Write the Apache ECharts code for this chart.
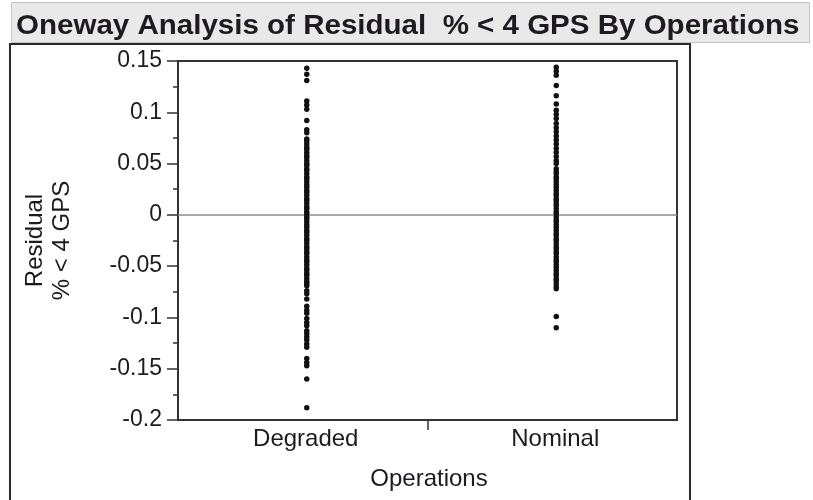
<!DOCTYPE html>
<html>
<head>
<meta charset="utf-8">
<script src="https://cdn.jsdelivr.net/npm/echarts@6/dist/echarts.min.js"></script>
<style>
  html, body { margin: 0; padding: 0; background: #ffffff; }
  #chart { width: 813px; height: 500px; }
</style>
</head>
<body>
<div id="chart"></div>
<script>
// Groups on the x axis
const categories = ['Degraded', 'Nominal'];

// Residual % < 4 GPS for each run, by operating condition
const degradedResiduals = [
  0.143, 0.137, 0.131, 0.111, 0.107, 0.103, 0.092, 0.083, 0.080,
  0.074, 0.072, 0.069, 0.066, 0.064, 0.061, 0.058, 0.056, 0.053, 0.050,
  0.048, 0.045, 0.043, 0.040, 0.037, 0.035, 0.032, 0.029, 0.027, 0.024,
  0.022, 0.019, 0.016, 0.014, 0.011, 0.008, 0.006, 0.003, 0.001, -0.002,
  -0.004, -0.007, -0.010, -0.012, -0.015, -0.017, -0.020, -0.023, -0.025,
  -0.028, -0.031, -0.033, -0.036, -0.038, -0.041, -0.044, -0.046, -0.049,
  -0.052, -0.054, -0.057, -0.059, -0.062, -0.065, -0.067, -0.069,
  -0.074, -0.077, -0.082, -0.089, -0.093, -0.096, -0.101, -0.105, -0.108,
  -0.113, -0.116, -0.119, -0.122, -0.126, -0.129, -0.140, -0.144, -0.147,
  -0.160, -0.188
];

const nominalResiduals = [
  0.144, 0.140, 0.136, 0.126, 0.116, 0.108, 0.102, 0.098, 0.094, 0.089,
  0.085, 0.081, 0.077, 0.073, 0.069, 0.065, 0.061, 0.057, 0.053, 0.050,
  0.045, 0.042, 0.040, 0.037, 0.035, 0.032, 0.029, 0.027, 0.024, 0.021,
  0.019, 0.016, 0.014, 0.011, 0.009, 0.006, 0.003, 0.001, -0.002, -0.005,
  -0.007, -0.010, -0.012, -0.015, -0.018, -0.020, -0.023, -0.025, -0.028,
  -0.031, -0.033, -0.036, -0.038, -0.041, -0.044, -0.046, -0.049, -0.051,
  -0.054, -0.057, -0.059, -0.062, -0.064, -0.067, -0.070, -0.072,
  -0.099, -0.110
];

// Y axis range and tick step
const yMin = -0.2;
const yMax = 0.15;
const yStep = 0.05;

const titleText = 'Oneway Analysis of Residual  % < 4 GPS By Operations';
const yName = 'Residual\n% < 4 GPS';
const xName = 'Operations';

const FONT = '"Liberation Sans", Arial, sans-serif';
const INK = '#1e1a22';

const points = [];
degradedResiduals.forEach(v => points.push([categories[0], v]));
nominalResiduals.forEach(v => points.push([categories[1], v]));

const chart = echarts.init(document.getElementById('chart'), null, { renderer: 'canvas' });

chart.setOption({
  animation: false,
  backgroundColor: '#ffffff',
  textStyle: { fontFamily: FONT, color: INK },
  graphic: [
    // report header bar
    {
      type: 'rect', z: 0,
      shape: { x: 11.5, y: 2.5, width: 798, height: 40 },
      style: { fill: '#e9e9e9', stroke: '#c4c4c4', lineWidth: 1 }
    },
    {
      type: 'text', z: 1,
      x: 16, y: 12,
      scaleX: 1.036,
      style: {
        text: titleText, fill: INK,
        font: 'bold 28.5px ' + FONT
      }
    },
    // report outline box
    {
      type: 'polyline', z: 1,
      shape: { points: [[10, 520], [10, 44], [690, 44], [690, 520]] },
      style: { stroke: '#2a2a2a', lineWidth: 2, fill: null }
    }
  ],
  grid: {
    left: 178, right: 136, top: 61, bottom: 80,
    show: true, borderColor: '#333', borderWidth: 2,
    containLabel: false
  },
  xAxis: [
    {
      type: 'category',
      data: categories,
      boundaryGap: true,
      name: xName,
      nameLocation: 'middle',
      nameGap: 47,
      nameTextStyle: { fontSize: 24, fontFamily: FONT, color: INK, padding: [0, 0, 0, 3] },
      axisLine: { onZero: false, lineStyle: { color: '#333', width: 2 } },
      axisTick: { show: false },
      axisLabel: { fontSize: 24, fontFamily: FONT, color: INK, margin: 7, padding: [0, 0, 0, 6] },
      splitLine: { show: false }
    },
    {
      // divider tick between the two groups
      type: 'value',
      position: 'bottom',
      min: 0, max: 2, interval: 1,
      axisLine: { show: false, onZero: false },
      axisLabel: { show: false },
      splitLine: { show: false },
      axisTick: { show: true, length: 10, customValues: [1], lineStyle: { color: '#333', width: 1.5 } }
    }
  ],
  yAxis: {
    type: 'value',
    min: yMin, max: yMax, interval: yStep,
    name: yName,
    nameLocation: 'middle',
    nameRotate: 90,
    nameGap: 102,
    nameTextStyle: { fontSize: 24, fontFamily: FONT, color: INK, lineHeight: 27, align: 'center' },
    axisLine: { show: true, lineStyle: { color: '#333', width: 2 } },
    axisTick: { show: true, length: 11, lineStyle: { color: '#333', width: 1.5 } },
    minorTick: { show: true, splitNumber: 2, length: 5, lineStyle: { color: '#333', width: 1.5 } },
    axisLabel: {
      fontSize: 23, fontFamily: FONT, color: INK, margin: 16,
      formatter: v => String(+v.toFixed(2))
    },
    splitLine: { show: false }
  },
  series: [{
    type: 'scatter',
    xAxisIndex: 0,
    data: points,
    symbol: 'circle',
    symbolSize: 5.5,
    symbolOffset: [4, 0],
    itemStyle: { color: '#111', opacity: 1 },
    z: 3,
    markLine: {
      silent: true,
      symbol: ['none', 'none'],
      label: { show: false },
      lineStyle: { color: '#8a8a8a', width: 1.5, type: 'solid' },
      data: [{ yAxis: 0 }],
      z: 2
    }
  }]
});
</script>
</body>
</html>
